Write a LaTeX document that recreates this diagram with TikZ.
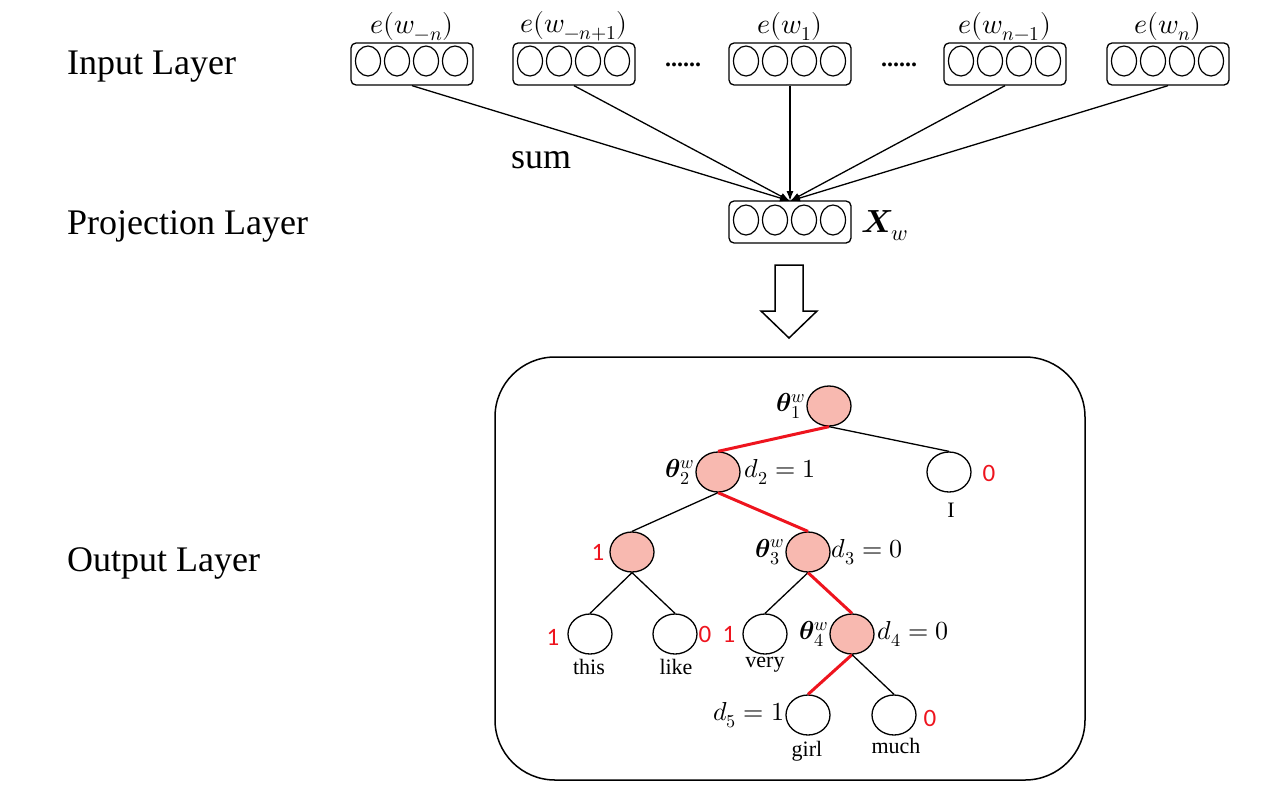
\documentclass[tikz,border=0pt]{standalone}
\usepackage{fontspec}
\usepackage{unicode-math}
\setmainfont{Liberation Serif}
\setmathfont{Latin Modern Math}
\newfontfamily\numfont{Carlito}
\usetikzlibrary{shapes.geometric,arrows.meta}
\definecolor{pinkc}{RGB}{248,185,176}
\definecolor{redc}{RGB}{238,20,30}
\begin{document}
\begin{tikzpicture}[x=1pt,y=-1pt,
  vec/.style={draw, rounded corners=5pt, minimum width=122pt, minimum height=42pt, line width=1.3pt, inner sep=0pt},
  unit/.style={draw, ellipse, minimum width=25pt, minimum height=30pt, inner sep=0pt, line width=1.2pt},
  tnode/.style={draw, ellipse, minimum width=44pt, minimum height=40pt, inner sep=0pt, line width=1.3pt},
  innode/.style={tnode, fill=pinkc},
  layerlab/.style={anchor=west, inner sep=0pt, font=\fontsize{36}{42}\selectfont},
  vlab/.style={font=\fontsize{28}{32}\selectfont, inner sep=1pt},
  mlab/.style={font=\fontsize{26}{30}\selectfont, inner sep=1pt},
  wordlab/.style={font=\fontsize{22}{26}\selectfont, inner sep=0pt},
  rednum/.style={text=redc, font=\numfont\fontsize{25}{28}\selectfont, inner sep=0pt},
  conn/.style={line width=1.3pt},
  redconn/.style={line width=3pt, draw=redc},
  arr/.style={line width=1.3pt, -{Latex[length=10pt,width=7pt]}}
]
\useasboundingbox (0,0) rectangle (1280,788);

% layer labels
\node[layerlab] (inl) at (67,67) {Input Layer};
\node[layerlab] (prl) at (67,226) {Projection Layer};
\node[layerlab] (oul) at (67,563) {Output Layer};

% input vectors
\foreach \n/\x/\lab in {v1/412/{$e(w_{-n})$}, v2/574/{$e(w_{-n+1})$}, v3/790/{$e(w_{1})$}, v4/1005/{$e(w_{n-1})$}, v5/1168/{$e(w_{n})$}}{
  \node[vec] (\n) at (\x,64) {};
  \foreach \dx/\k in {-44/a,-15/b,14/c,43/d}{
    \node[unit] (\n\k) at (\x+\dx,61) {};
  }
  \node[vlab, anchor=south] (\n lab) at (\x,42) {\lab};
}
\node[font=\fontsize{24}{28}\selectfont\bfseries] (dots1) at (683,65) {......};
\node[font=\fontsize{24}{28}\selectfont\bfseries] (dots2) at (899,65) {......};

% projection vector
\node[vec] (proj) at (790,222) {};
\foreach \dx/\k in {-44/a,-15/b,14/c,43/d}{
  \node[unit] (proj\k) at (790+\dx,220) {};
}
\node[font=\fontsize{32}{36}\selectfont, anchor=west] (xw) at (858,226) {$\symbfit{X}_{w}$};
\coordinate (pt) at (790,201);

\foreach \n in {v1,v2,v3,v4,v5}{
  \draw[arr] (\n.south) -- (pt);
}
\node[font=\fontsize{36}{42}\selectfont] (sum) at (541,160) {sum};

% block arrow
\draw[line width=1.5pt, fill=white] (775,265) -- (803,265) -- (803,311) -- (817,311) -- (789,338) -- (761,311) -- (775,311) -- cycle;

% output box
\node[draw, line width=1.5pt, rounded corners=60pt, minimum width=590pt, minimum height=423pt] (obox) at (790,568.5) {};

% tree nodes
\node[innode] (t1) at (829,406) {};
\node[innode] (t2) at (718,472) {};
\node[tnode] (nI) at (949,472) {};
\node[innode] (tl) at (632,552) {};
\node[innode] (t3) at (808,552) {};
\node[tnode] (nthis) at (590,634) {};
\node[tnode] (nlike) at (675,634) {};
\node[tnode] (nvery) at (765,634) {};
\node[innode] (t4) at (852,634) {};
\node[tnode] (ngirl) at (808,715) {};
\node[tnode] (nmuch) at (894,715) {};

% tree edges
\draw[redconn] (t1.south) -- (t2.north);
\draw[conn] (t1.south) -- (nI.north);
\draw[conn] (t2.south) -- (tl.north);
\draw[redconn] (t2.south) -- (t3.north);
\draw[conn] (tl.south) -- (nthis.north);
\draw[conn] (tl.south) -- (nlike.north);
\draw[conn] (t3.south) -- (nvery.north);
\draw[redconn] (t3.south) -- (t4.north);
\draw[redconn] (t4.south) -- (ngirl.north);
\draw[conn] (t4.south) -- (nmuch.north);

% theta labels
\node[mlab, anchor=east] (th1) at (t1.west) {$\symbfit{\theta}_{1}^{w}$};
\node[mlab, anchor=east] (th2) at (t2.west) {$\symbfit{\theta}_{2}^{w}$};
\node[mlab, anchor=east] (th3) at (t3.west) {$\symbfit{\theta}_{3}^{w}$};
\node[mlab, anchor=east] (th4) at (t4.west) {$\symbfit{\theta}_{4}^{w}$};

% d labels
\node[mlab, anchor=west] (d2) at ([xshift=3pt]t2.east) {$d_{2}=1$};
\node[mlab, anchor=west] (d3) at (t3.east) {$d_{3}=0$};
\node[mlab, anchor=west] (d4) at ([xshift=2pt]t4.east) {$d_{4}=0$};
\node[mlab, anchor=east] (d5) at (ngirl.west) {$d_{5}=1$};

% red numbers
\node[rednum] (r1) at (989,473) {0};
\node[rednum] (r2) at (598,552) {1};
\node[rednum] (r3) at (553,637) {1};
\node[rednum] (r4) at (705,634) {0};
\node[rednum] (r5) at (729,634) {1};
\node[rednum] (r6) at (930,718) {0};

% words
\node[wordlab] (wI) at (951,510) {I};
\node[wordlab] (wthis) at (589,667) {this};
\node[wordlab] (wlike) at (676,667) {like};
\node[wordlab] (wvery) at (765,665) {very};
\node[wordlab] (wgirl) at (807,751) {girl};
\node[wordlab] (wmuch) at (896,746) {much};
\end{tikzpicture}
\end{document}
